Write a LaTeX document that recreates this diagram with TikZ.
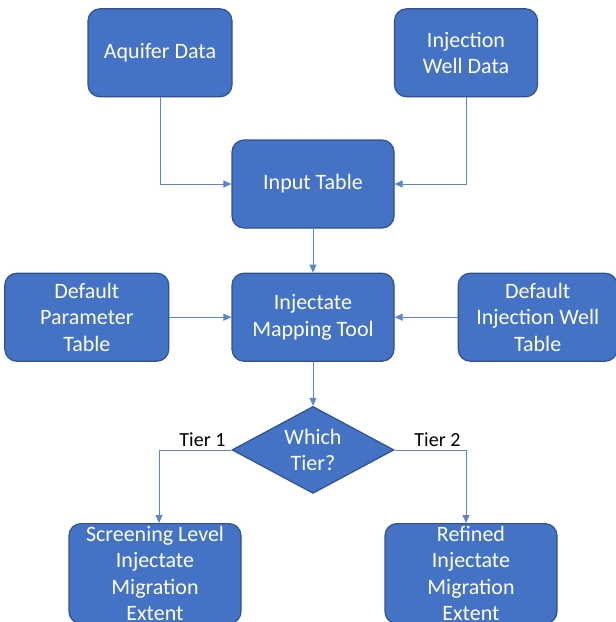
\documentclass[tikz,border=0pt]{standalone}
\usepackage{fontspec}
\setmainfont{Carlito}
\usetikzlibrary{arrows.meta,shapes.geometric,positioning}
\definecolor{boxfill}{HTML}{4472C4}
\definecolor{boxline}{HTML}{2F528F}
\definecolor{linkline}{HTML}{5B85CF}

\begin{document}
\begin{tikzpicture}[
				node distance=44pt,
				process/.style={draw=boxline,line width=1.2pt,fill=boxfill,rectangle,rounded corners=12pt,minimum width=162pt,minimum height=88pt,text=white,align=center,font=\fontsize{22}{26.5}\selectfont,inner sep=2pt},
				decision/.style={draw=boxline,line width=1.2pt,fill=boxfill,diamond,aspect=1.86,minimum width=162pt,minimum height=87pt,inner sep=0pt,text=white,align=center,font=\fontsize{22}{26.5}\selectfont},
				link/.style={-{Triangle[length=8pt,width=7pt]},draw=linkline,line width=0.8pt},
				tierlabel/.style={font=\fontsize{20}{22}\selectfont,text=black,inner sep=3pt}
				]
				
				\clip (0,0) rectangle (616pt,-622pt);
				
				\node[process] (input) at (313pt,-184pt) {Input Table};
				\node[process,minimum width=144pt,above=42pt of input,xshift=-153pt] (aquifer) {Aquifer Data};
				\node[process,minimum width=143pt,above=42pt of input,xshift=153pt] (wells) {Injection\\Well Data};
				\node[process,below=of input] (mapping) {Injectate\\Mapping Tool};
				\node[process,minimum width=164pt,left=62pt of mapping] (defparam) {Default\\Parameter\\Table};
				\node[process,minimum width=159pt,right=63pt of mapping] (defwell) {Default\\Injection Well\\Table};
				\node[decision,below=of mapping] (tier) {Which\\Tier?};
				\node[process,minimum width=172pt,minimum height=100pt,below=29pt of tier,xshift=-158pt] (screening) {Screening Level\\Injectate\\Migration\\Extent};
				\node[process,minimum width=172pt,minimum height=100pt,below=29pt of tier,xshift=158pt] (refined) {Refined\\Injectate\\Migration\\Extent};
				
				\draw[link] (aquifer.south) |- (input.west);
				\draw[link] (wells.south) |- (input.east);
				\draw[link] (input) -- (mapping);
				\draw[link] (defparam) -- (mapping);
				\draw[link] (defwell) -- (mapping);
				\draw[link] (mapping) -- (tier);
				\draw[link] (tier.west) -| ([xshift=4pt]screening.north) node[pos=0.2,above,tierlabel] {Tier 1};
				\draw[link] (tier.east) -| ([xshift=-5pt]refined.north) node[pos=0.3,above,tierlabel] {Tier 2};
				
			\end{tikzpicture}
\end{document}
